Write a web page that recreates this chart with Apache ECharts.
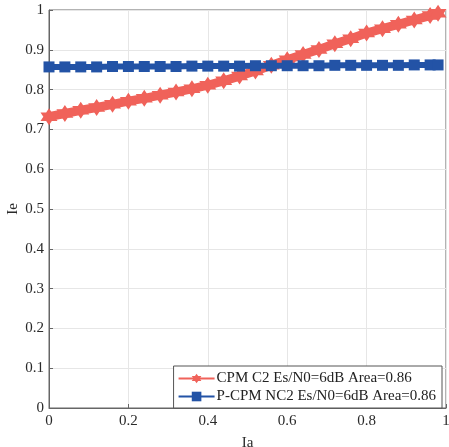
<!DOCTYPE html>
<html>
<head>
<meta charset="utf-8">
<script src="https://cdn.jsdelivr.net/npm/echarts@6/dist/echarts.min.js"></script>
<style>
html,body{margin:0;padding:0;background:#fff;}
#chart{width:449px;height:447px;}
</style>
</head>
<body>
<div id="chart"></div>
<script>
// Ia sample points
const iaValues = [0, 0.04, 0.08, 0.12, 0.16, 0.20, 0.24, 0.28, 0.32, 0.36, 0.40, 0.44, 0.48,
  0.52, 0.56, 0.60, 0.64, 0.68, 0.72, 0.76, 0.80, 0.84, 0.88, 0.92, 0.96, 0.98];
// Ie for CPM C2
const cpmIe = [0.732, 0.740, 0.748, 0.755, 0.763, 0.771, 0.778, 0.786, 0.794, 0.802, 0.811, 0.822, 0.834,
  0.847, 0.861, 0.875, 0.888, 0.901, 0.915, 0.928, 0.942, 0.953, 0.964, 0.975, 0.986, 0.992];
// Ie for P-CPM NC2
const pcpmIe = [0.857, 0.857, 0.857, 0.857, 0.858, 0.858, 0.858, 0.858, 0.858, 0.859, 0.859, 0.859, 0.859,
  0.860, 0.860, 0.860, 0.860, 0.860, 0.861, 0.861, 0.861, 0.861, 0.861, 0.862, 0.862, 0.862];
const seriesNames = ['CPM C2 Es/N0=6dB Area=0.86', 'P-CPM NC2 Es/N0=6dB Area=0.86'];

const hexagram = 'path://M0,-100 L28.9,-50 L86.6,-50 L57.7,0 L86.6,50 L28.9,50 L0,100 L-28.9,50 L-86.6,50 L-57.7,0 L-86.6,-50 L-28.9,-50 Z';
const font = 'Liberation Serif';

const pairs = ys => iaValues.map((x, i) => [x, ys[i]]);

const axisText = {fontFamily: font, fontSize: 15, color: '#2a2a2a'};

const chart = echarts.init(document.getElementById('chart'), null, {renderer: 'canvas'});
chart.setOption({
  animation: false,
  backgroundColor: '#ffffff',
  textStyle: {fontFamily: font},
  grid: {
    left: 49, right: 3, top: 10, bottom: 39,
    outerBoundsMode: 'none', containLabel: false,
    show: true, borderColor: '#666', borderWidth: 1, backgroundColor: 'transparent'
  },
  xAxis: {
    type: 'value', min: 0, max: 1, interval: 0.2,
    name: 'Ia', nameLocation: 'middle', nameGap: 28, nameMoveOverlap: false,
    nameTextStyle: axisText,
    axisLine: {show: true, lineStyle: {color: '#666', width: 1}},
    axisTick: {show: true, inside: true, length: 4, lineStyle: {color: '#666'}},
    axisLabel: Object.assign({margin: 6}, axisText),
    splitLine: {show: true, lineStyle: {color: '#e6e6e6', width: 1}}
  },
  yAxis: {
    type: 'value', min: 0, max: 1, interval: 0.1,
    name: 'Ie', nameLocation: 'middle', nameGap: 28, nameMoveOverlap: false,
    nameTextStyle: axisText,
    axisLine: {show: true, lineStyle: {color: '#666', width: 1}},
    axisTick: {show: true, inside: true, length: 4, lineStyle: {color: '#666'}},
    axisLabel: Object.assign({margin: 5}, axisText),
    splitLine: {show: true, lineStyle: {color: '#e6e6e6', width: 1}}
  },
  legend: {
    right: 7, bottom: 39,
    orient: 'vertical',
    backgroundColor: '#fff',
    borderColor: '#555', borderWidth: 1,
    padding: [5, 6, 4, 4],
    itemGap: 3,
    itemWidth: 36, itemHeight: 12,
    textStyle: {fontFamily: font, fontSize: 15, color: '#222', padding: [0, 0, 0, -3]},
    data: seriesNames
  },
  series: [
    {
      name: seriesNames[0], type: 'line',
      data: pairs(cpmIe),
      symbol: hexagram, symbolSize: 17,
      lineStyle: {color: '#f0625a', width: 9},
      itemStyle: {color: '#f0625a'},
      z: 3
    },
    {
      name: seriesNames[1], type: 'line',
      data: pairs(pcpmIe),
      symbol: 'rect', symbolSize: 11,
      lineStyle: {color: '#2353a6', width: 6},
      itemStyle: {color: '#2353a6'},
      z: 4
    }
  ]
});
</script>
</body>
</html>
